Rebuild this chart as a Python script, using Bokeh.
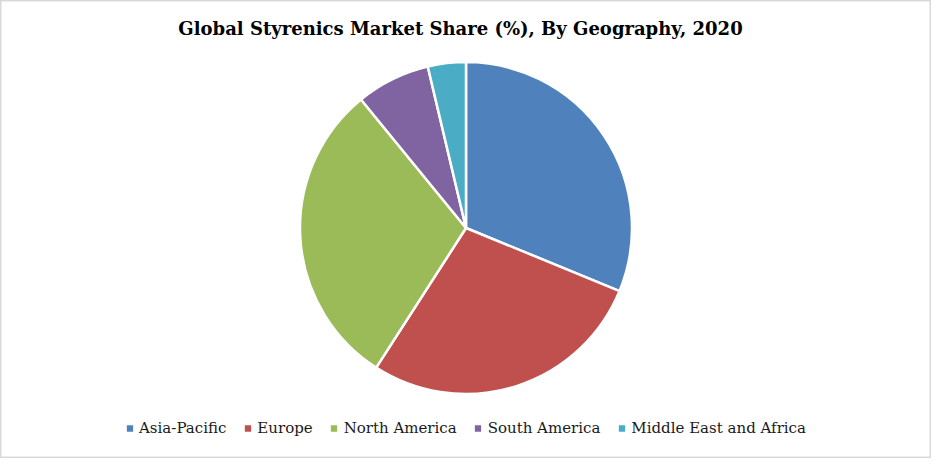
import math
from bokeh.plotting import figure
from bokeh.models import ColumnDataSource, Legend, LegendItem
from bokeh.embed import file_html
from bokeh.resources import INLINE

regions = ["Asia-Pacific", "Europe", "North America", "South America", "Middle East and Africa"]
shares = [31.2, 27.9, 30.0, 7.2, 3.7]
colors = ["#4F81BD", "#C0504D", "#9BBB59", "#8064A2", "#4BACC6"]
title_text = "Global Styrenics Market Share (%), By Geography, 2020"

W, H = 931, 458
total = sum(shares)
starts, ends = [], []
acc = 0.0
for s in shares:
    starts.append(math.pi / 2 - 2 * math.pi * acc / total)
    acc += s
    ends.append(math.pi / 2 - 2 * math.pi * acc / total)

src = ColumnDataSource(dict(region=regions, share=shares, color=colors,
                            start=starts, end=ends))

p = figure(width=W, height=H, output_backend="svg", toolbar_location=None,
           x_range=(0, W), y_range=(0, H), min_border=0,
           x_axis_type=None, y_axis_type=None)
p.grid.visible = False
p.outline_line_color = "#d9d9d9"
p.outline_line_width = 2
p.background_fill_color = "white"
p.border_fill_color = "white"

wedges = p.wedge(x=465.5, y=230.5, radius=166, radius_units="screen",
                 start_angle="start", end_angle="end", direction="clock",
                 fill_color="color", line_color="white", line_width=2.5, source=src)

p.text(x=[460], y=[430], text=[title_text], text_align="center", text_baseline="middle",
       text_font={"value": "DejaVu Serif"}, text_font_style="bold", text_font_size="18px",
       text_color="black")

# legend swatches: square markers kept outside the visible range
items = []
for reg, col in zip(regions, colors):
    sq = p.rect(x=[-100], y=[-100], width=1, height=1, fill_color=col, line_color=None)
    items.append(LegendItem(label=reg, renderers=[sq]))

legend = Legend(items=items, orientation="horizontal", location="bottom_center",
                glyph_width=8, glyph_height=8, label_standoff=6, spacing=17,
                label_text_font="DejaVu Serif", label_text_font_size="15px",
                label_text_color="#1a1a1a", border_line_color=None,
                background_fill_alpha=0, margin=21, padding=0)
p.add_layout(legend, "center")

open("out.html", "w").write(file_html(p, INLINE))
